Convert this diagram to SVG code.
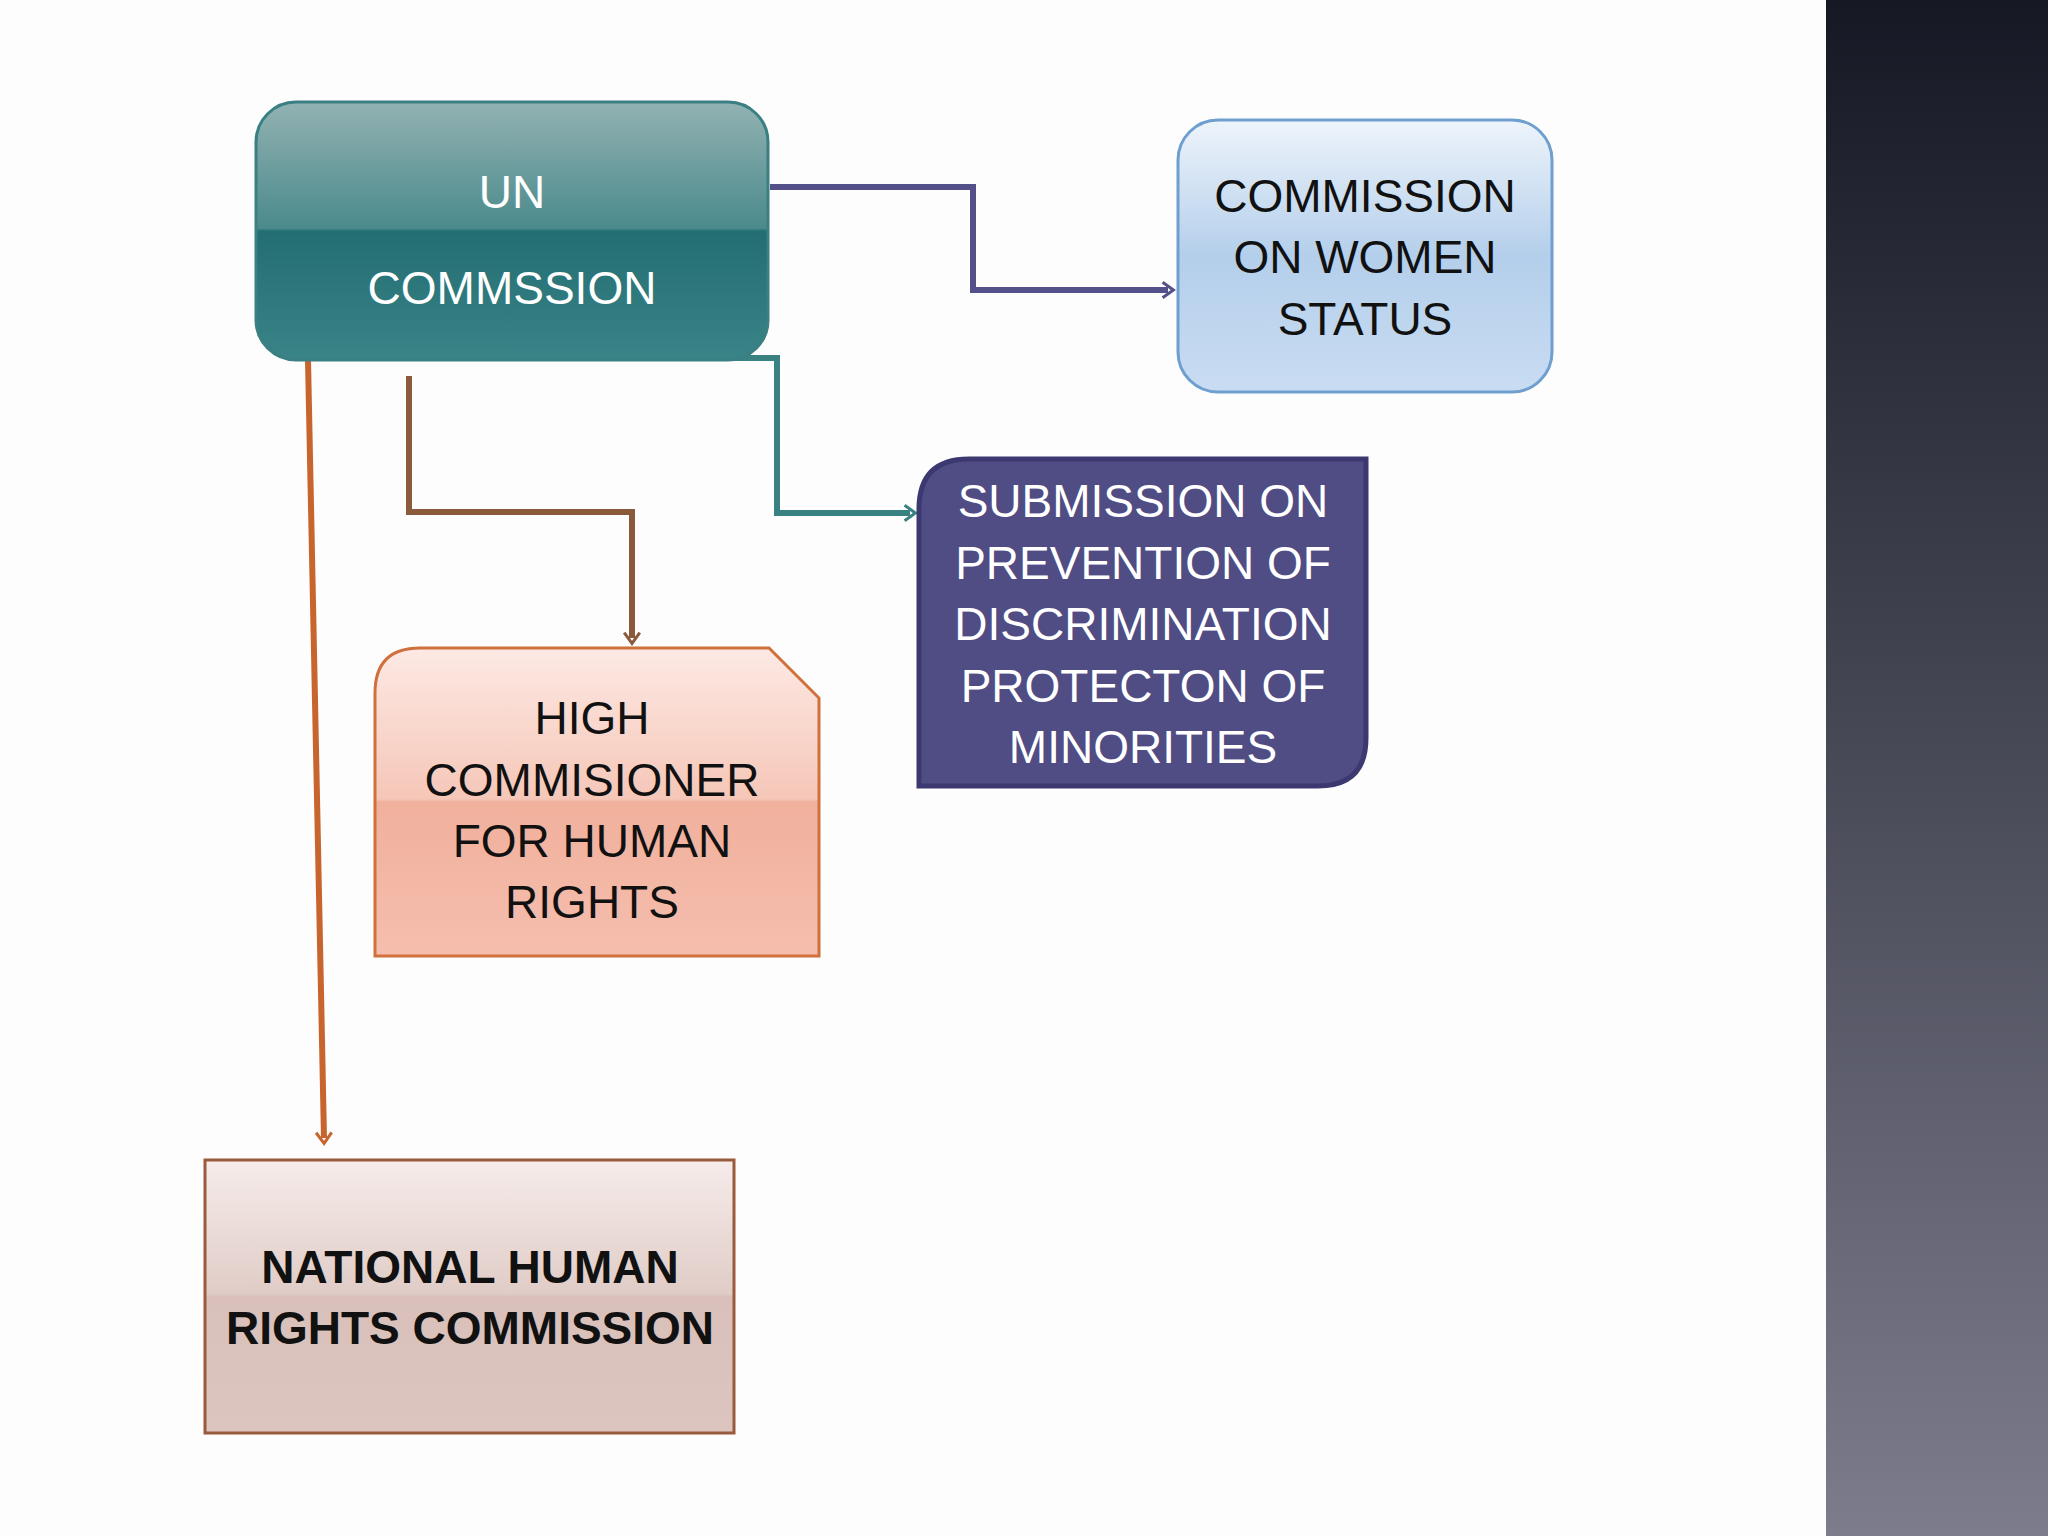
<svg xmlns="http://www.w3.org/2000/svg" width="2048" height="1536" viewBox="0 0 2048 1536">
<defs>
<linearGradient id="dark" x1="0" y1="0" x2="0" y2="1"><stop offset="0" stop-color="#161824"/><stop offset="1" stop-color="#7c7c8c"/></linearGradient>
<linearGradient id="un" x1="0" y1="0" x2="0" y2="1"><stop offset="0" stop-color="#93b2b2"/><stop offset="0.49" stop-color="#4a8a8c"/><stop offset="0.5" stop-color="#236e72"/><stop offset="1" stop-color="#3a8488"/></linearGradient>
<linearGradient id="wo" x1="0" y1="0" x2="0" y2="1"><stop offset="0" stop-color="#eef4fb"/><stop offset="0.5" stop-color="#b4cfeb"/><stop offset="1" stop-color="#c9dcf2"/></linearGradient>
<linearGradient id="hi" x1="0" y1="0" x2="0" y2="1"><stop offset="0" stop-color="#fde9e4"/><stop offset="0.49" stop-color="#f5c7b8"/><stop offset="0.5" stop-color="#f0b09c"/><stop offset="1" stop-color="#f6beae"/></linearGradient>
<linearGradient id="na" x1="0" y1="0" x2="0" y2="1"><stop offset="0" stop-color="#f6ecea"/><stop offset="0.49" stop-color="#e0ccc7"/><stop offset="0.5" stop-color="#d9c0ba"/><stop offset="1" stop-color="#ddc5bf"/></linearGradient>
<marker id="ap" viewBox="0 0 10 10" refX="9" refY="5" markerWidth="6" markerHeight="6" orient="auto" markerUnits="userSpaceOnUse" style="overflow:visible"><path d="M0,-8 L18,5 L0,18" fill="none" stroke="#54508a" stroke-width="5"/></marker>
<marker id="at" viewBox="0 0 10 10" refX="9" refY="5" markerWidth="6" markerHeight="6" orient="auto" markerUnits="userSpaceOnUse" style="overflow:visible"><path d="M0,-8 L18,5 L0,18" fill="none" stroke="#3a8282" stroke-width="5"/></marker>
<marker id="ab" viewBox="0 0 10 10" refX="9" refY="5" markerWidth="6" markerHeight="6" orient="auto" markerUnits="userSpaceOnUse" style="overflow:visible"><path d="M0,-8 L18,5 L0,18" fill="none" stroke="#8a5a3c" stroke-width="5"/></marker>
<marker id="ao" viewBox="0 0 10 10" refX="9" refY="5" markerWidth="6" markerHeight="6" orient="auto" markerUnits="userSpaceOnUse" style="overflow:visible"><path d="M0,-8 L18,5 L0,18" fill="none" stroke="#c8642e" stroke-width="5"/></marker>
</defs>
<style>
text{font-family:"Liberation Sans","DejaVu Sans",sans-serif;text-anchor:middle}
.t{font-size:46px;fill:#111}
.w{font-size:46px;fill:#fff}
.c{fill:none;stroke-width:6}
</style>
<rect width="2048" height="1536" fill="#fdfdfd"/>
<rect x="1826" y="0" width="222" height="1536" fill="url(#dark)"/>
<g id="connectors">
<polyline class="c" stroke="#54508a" points="770,187 973,187 973,290 1168,290" marker-end="url(#ap)"/>
<polyline class="c" stroke="#3a8282" points="633,358 777,358 777,513 910,513" marker-end="url(#at)"/>
<polyline class="c" stroke="#8a5a3c" points="409,376 409,512 632,512 632,638" marker-end="url(#ab)"/>
<polyline class="c" stroke="#c8642e" points="308,360 324,1138" marker-end="url(#ao)"/>
</g>
<g id="un">
<rect x="256" y="102" width="512" height="258" rx="40" fill="url(#un)" stroke="#3a7f82" stroke-width="3"/>
<text class="w" x="512" y="208" font-size="78">UN</text>
<text class="w" x="512" y="304" font-size="76">COMMSSION</text>
</g>
<g id="women">
<rect x="1178" y="120" width="374" height="272" rx="40" fill="url(#wo)" stroke="#6f9fcf" stroke-width="3"/>
<text class="t" x="1365" y="212">COMMISSION</text>
<text class="t" x="1365" y="273">ON WOMEN</text>
<text class="t" x="1365" y="335">STATUS</text>
</g>
<g id="submission">
<path d="M969,459 H1366 V738 Q1366,786 1318,786 H919 V509 Q919,459 969,459 Z" fill="#504c84" stroke="#3c3870" stroke-width="5"/>
<text class="w" x="1143" y="517">SUBMISSION ON</text>
<text class="w" x="1143" y="579">PREVENTION OF</text>
<text class="w" x="1143" y="640">DISCRIMINATION</text>
<text class="w" x="1143" y="702">PROTECTON OF</text>
<text class="w" x="1143" y="763">MINORITIES</text>
</g>
<g id="high">
<path d="M420,648 H769 L819,698 V956 H375 V693 Q375,648 420,648 Z" fill="url(#hi)" stroke="#d0703c" stroke-width="3"/>
<text class="t" x="592" y="734">HIGH</text>
<text class="t" x="592" y="796">COMMISIONER</text>
<text class="t" x="592" y="857">FOR HUMAN</text>
<text class="t" x="592" y="918">RIGHTS</text>
</g>
<g id="national">
<rect x="205" y="1160" width="529" height="273" fill="url(#na)" stroke="#9a5a3c" stroke-width="3"/>
<text class="t" x="470" y="1283" font-weight="bold">NATIONAL HUMAN</text>
<text class="t" x="470" y="1344" font-weight="bold">RIGHTS COMMISSION</text>
</g>
</svg>
